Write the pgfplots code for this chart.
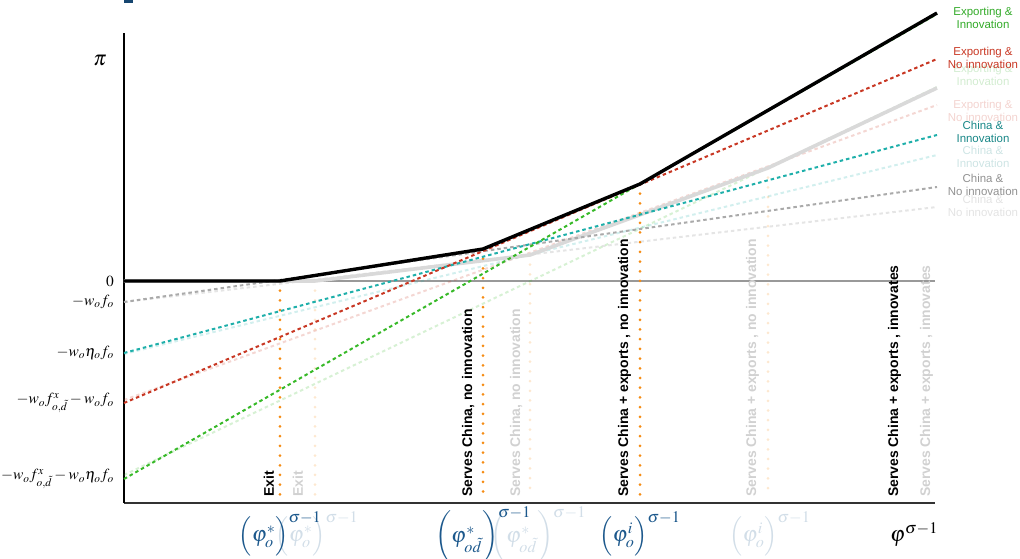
\documentclass[border=0pt]{standalone}
\usepackage{mathptmx}
\usepackage[no-math]{fontspec}
\setmainfont{Liberation Sans}
\usepackage{pgfplots}
\pgfplotsset{compat=1.18}
\definecolor{cgreen}{RGB}{55,185,40}
\definecolor{cgreent}{RGB}{50,170,40}
\definecolor{cred}{RGB}{200,55,35}
\definecolor{cteal}{RGB}{30,175,170}
\definecolor{ctealt}{RGB}{25,135,135}
\definecolor{cgray}{RGB}{170,170,170}
\definecolor{cgrayt}{RGB}{145,145,145}
\definecolor{corange}{RGB}{245,140,20}
\definecolor{cblue}{RGB}{28,88,140}
\definecolor{ghost}{RGB}{217,217,217}
\begin{document}
\begin{tikzpicture}
\begin{axis}[
  x=1bp, y=1bp, xmin=0, xmax=811, ymin=-222, ymax=248,
  axis x line=bottom, axis y line=left,
  axis line style={-, line width=1.1bp},
  x axis line style={draw=black!80},
  xtick=\empty,
  ytick={-198,-122,-72,-21,0},
  yticklabels={$-w_of^x_{o,\tilde d}-w_o\eta_of_o$,$-w_of^x_{o,\tilde d}-w_of_o$,$-w_o\eta_of_o$,$-w_of_o$,$0$},
  major tick length=0pt,
  yticklabel style={font=\fontsize{15.5}{18}\selectfont, anchor=east, inner sep=0pt, xshift=-10bp},
  clip=false,
]
% zero line
\addplot[draw=black!40, line width=1.3bp] coordinates {(0,0) (811,0)};
% faded (ghost) lines
\tikzset{dsh/.style={dash pattern=on 3.5bp off 3bp, line width=2bp}, dots/.style={dash pattern=on 0bp off 9.7bp, line cap=round, line width=3bp}}
\addplot[draw=cgray, draw opacity=0.3, dsh] coordinates {(0,-21) (813,74)};
\addplot[draw=cteal, draw opacity=0.2, dsh] coordinates {(0,-73) (813,126)};
\addplot[draw=cred, draw opacity=0.2, dsh] coordinates {(0,-119) (813,176)};
\addplot[draw=cgreen, draw opacity=0.2, dsh] coordinates {(0,-194) (813,194)};
\addplot[draw=corange, draw opacity=0.2, dots] coordinates {(191,0) (191,-216)};
\addplot[draw=corange, draw opacity=0.2, dots] coordinates {(406,26) (406,-216)};
\addplot[draw=corange, draw opacity=0.2, dots] coordinates {(644,113) (644,-216)};
\addplot[draw=ghost, line width=3.6bp, line join=round] coordinates {(0,0) (191,0) (406,26) (644,113) (813,193)};
% orange thresholds
\addplot[draw=corange, dots] coordinates {(156,0) (156,-216)};
\addplot[draw=corange, dots] coordinates {(359,32) (359,-216)};
\addplot[draw=corange, dots] coordinates {(516,97) (516,-216)};
% main dashed profit lines
\addplot[draw=cgray, dsh] coordinates {(0,-21) (813,94)};
\addplot[draw=cteal, dsh] coordinates {(0,-72) (813,146)};
\addplot[draw=cred, dsh] coordinates {(0,-122) (813,222)};
\addplot[draw=cgreen, dsh] coordinates {(0,-198) (813,267)};
% envelope
\addplot[draw=black, line width=3.4bp, line join=round] coordinates {(0,0) (156,0) (359,32) (516,97) (813,268)};

% rotated regime labels
\tikzset{reg/.style={rotate=90, anchor=base west, inner sep=0pt, font=\bfseries\fontsize{14}{16}\selectfont}}
\node[reg, text=black!18] at (axis cs:179,-216) {Exit};
\node[reg, text=black!18] at (axis cs:396,-216) {Serves China, no innovation};
\node[reg, text=black!18] at (axis cs:632,-216) {Serves China + exports , no innovation};
\node[reg, text=black!18] at (axis cs:806,-216) {Serves China + exports , innovates};
\node[reg] at (axis cs:150,-216) {Exit};
\node[reg] at (axis cs:348,-216) {Serves China, no innovation};
\node[reg] at (axis cs:504,-216) {Serves China + exports , no innovation};
\node[reg] at (axis cs:774,-216) {Serves China + exports , innovates};

% right labels
\tikzset{rl/.style={align=center, inner sep=0pt, font=\fontsize{11.5}{13}\selectfont}}
\node[rl, text=cgreent!22] at (axis cs:859,206) {Exporting \&\\Innovation};
\node[rl, text=cred!22] at (axis cs:859,170) {Exporting \&\\No innovation};
\node[rl, text=ctealt!22] at (axis cs:859,124.5) {China \&\\Innovation};
\node[rl, text=cgrayt!25] at (axis cs:859,75) {China \&\\No innovation};
\node[rl, text=cgreent] at (axis cs:859,263.5) {Exporting \&\\Innovation};
\node[rl, text=cred] at (axis cs:859,223.5) {Exporting \&\\No innovation};
\node[rl, text=ctealt] at (axis cs:859,149.5) {China \&\\Innovation};
\node[rl, text=cgrayt] at (axis cs:859,96) {China \&\\No innovation};

% bottom threshold labels
\tikzset{bl/.style={inner sep=0pt, font=\fontsize{22}{26}\selectfont}}
\newcommand{\lo}{\Bigl(\varphi^*_o\Bigr)^{\sigma-1}}
\newcommand{\lm}{\left(\vrule height 23pt depth 21pt width 0pt\varphi^*_{o\tilde d}\right)^{\sigma-1}}
\newcommand{\li}{\Bigl(\varphi^i_o\Bigr)^{\sigma-1}}
\node[bl, text=cblue!20] at (axis cs:193,-253) {$\lo$};
\node[bl, text=cblue!20] at (axis cs:414,-254) {$\lm$};
\node[bl, text=cblue!20] at (axis cs:646,-253) {$\li$};
\node[bl, text=cblue] at (axis cs:156,-253) {$\lo$};
\node[bl, text=cblue] at (axis cs:359,-254) {$\lm$};
\node[bl, text=cblue] at (axis cs:516,-253) {$\li$};
\node[bl] at (axis cs:790,-254) {$\varphi^{\sigma-1}$};
\node[inner sep=0pt, font=\fontsize{21}{24}\selectfont] at (axis cs:-24,220) {$\pi$};

\fill[cblue!80!black] (axis cs:0,278) rectangle (axis cs:9,281);
\coordinate (BL) at (axis cs:-124,-278);
\coordinate (TR) at (axis cs:896,281);
\end{axis}
\pgfresetboundingbox
\path (BL) rectangle (TR);
\end{tikzpicture}
\end{document}
